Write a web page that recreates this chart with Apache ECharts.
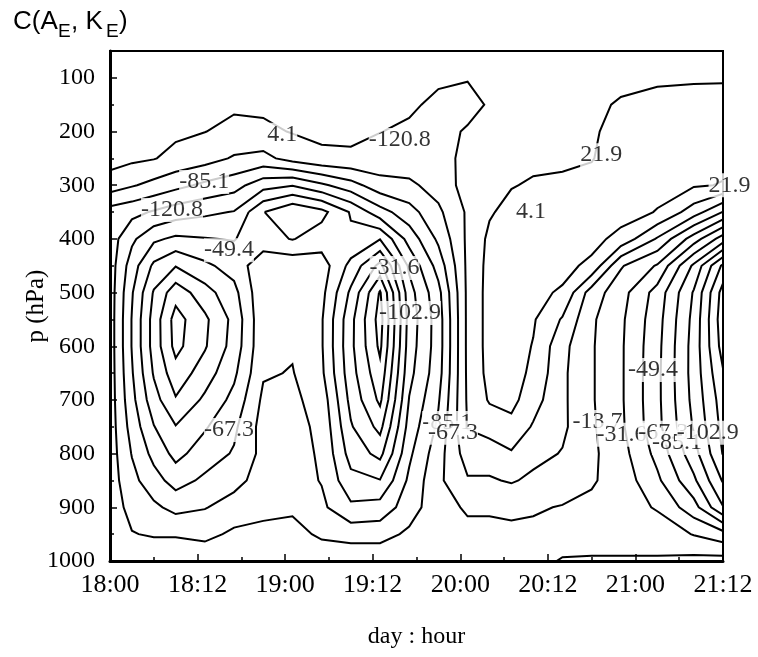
<!DOCTYPE html>
<html><head><meta charset="utf-8">
<script src="https://cdn.jsdelivr.net/npm/echarts@6/dist/echarts.min.js"></script>
<style>html,body{margin:0;padding:0;background:#fff}#c{width:758px;height:657px}</style>
</head><body><div id="c"></div>
<script>
// hours since 18:00 of each data column
const hours = [0, 3, 6, 9, 13, 17, 21, 25, 29, 33, 37, 41, 45, 49, 52, 55, 58, 62, 66, 70, 75, 80, 84];
// pressure levels (hPa) of each data row
const pressures = [50,100,150,200,250,300,350,400,450,500,550,600,650,700,750,800,850,900,950,1000];
// C(AE,KE) values, one row per pressure level (estimated from the figure)
const row50   = [13.0,13.0,13.0,13.0,13.0,13.0,13.0,13.0,13.0,13.0,13.0,12.1,11.2,9.4,11.2,12.1,13.0,13.9,14.8,14.8,14.8,14.8,14.8];
const row100  = [13.0,13.0,13.0,13.0,13.0,12.1,12.1,13.0,13.0,13.0,13.0,9.4,6.7,5.0,6.7,11.2,13.0,14.8,16.5,17.4,19.2,20.1,20.1];
const row150  = [13.0,13.0,13.0,11.2,9.4,6.7,7.6,9.4,11.2,11.2,10.3,6.7,0.5,-1.3,5.8,11.2,13.9,16.5,18.3,23.7,27.3,28.1,29.0];
const row200  = [13.0,12.1,11.2,7.6,4.4,-0.4,0.5,5.0,7.6,7.6,4.4,1.4,-1.3,5.8,7.6,13.0,15.7,17.4,19.2,29.0,30.8,31.7,30.8];
const row250  = [11.2,7.6,5.0,-1.3,-6.6,-15.6,-19.1,-6.6,0.5,1.4,-1.3,-3.1,0.5,6.7,11.2,16.5,18.3,18.3,21.0,30.8,30.8,31.7,26.4];
const row300  = [-4.9,-12.0,-19.1,-26.3,-35.2,-42.3,-60.2,-66.4,-53.0,-38.8,-20.9,-17.3,-6.6,11.2,15.7,21.0,23.7,25.5,27.3,30.8,27.3,23.7,21.0];
const row350  = [-38.8,-44.1,-51.2,-58.4,-63.7,-68.2,-102.1,-119.0,-108.3,-83.4,-56.6,-38.8,-17.3,6.7,20.1,27.3,29.0,29.0,30.8,29.0,21.0,-4.9,-32.5];
const row400  = [-40.5,-63.7,-81.6,-88.7,-86.0,-84.2,-95.8,-103.9,-94.1,-88.7,-102.1,-60.2,-28.1,7.6,25.5,29.0,29.9,29.0,27.3,16.5,-15.6,-58.4,-94.1];
const row450  = [-40.5,-76.2,-106.5,-119.9,-106.5,-95.8,-72.7,-72.7,-76.2,-108.3,-144.0,-81.6,-42.3,8.0,27.3,29.9,28.1,26.4,18.3,-29.8,-51.2,-106.5,-160.1];
const row500  = [-40.5,-83.4,-122.6,-149.4,-128.0,-108.3,-70.9,-70.9,-79.8,-124.4,-176.1,-92.3,-54.8,8.0,28.1,29.9,25.5,20.1,-22.7,-42.3,-74.4,-122.6,-181.5];
const row550  = [-40.5,-86.0,-128.0,-163.6,-142.2,-115.5,-70.9,-69.1,-83.4,-133.3,-181.5,-95.8,-58.4,8.0,28.1,29.9,23.7,2.3,-28.9,-45.9,-78.0,-126.2,-185.0];
const row600  = [-40.5,-86.0,-128.0,-161.9,-140.4,-113.7,-70.9,-69.1,-83.4,-134.2,-177.9,-94.1,-58.4,8.0,28.1,29.9,21.0,-8.4,-29.8,-46.8,-79.8,-128.0,-181.5];
const row650  = [-40.5,-83.4,-122.6,-149.4,-129.7,-106.5,-69.1,-66.4,-81.6,-131.5,-169.0,-90.5,-56.6,7.6,27.3,29.0,18.3,-10.2,-29.8,-46.8,-80.7,-128.0,-172.6];
const row700  = [-40.5,-79.8,-113.7,-136.9,-117.3,-97.6,-63.7,-63.7,-74.4,-126.2,-160.1,-84.2,-51.2,6.7,23.7,27.3,11.2,-10.2,-29.8,-46.8,-80.7,-126.2,-165.4];
const row750  = [-40.5,-74.4,-102.1,-119.9,-104.8,-88.7,-60.2,-62.0,-70.9,-119.0,-144.0,-78.0,-45.9,5.0,11.2,16.5,2.3,-10.2,-28.9,-45.9,-79.8,-122.6,-161.9];
const row800  = [-40.5,-68.2,-90.5,-108.3,-94.1,-83.4,-62.0,-62.0,-69.1,-110.1,-126.2,-70.9,-38.8,-4.9,-4.9,2.3,-8.4,-14.7,-28.1,-42.3,-72.7,-113.7,-157.4];
const row850  = [-40.5,-62.0,-78.0,-92.3,-81.6,-72.7,-60.2,-60.2,-68.2,-97.6,-102.1,-63.7,-35.2,-15.6,-15.6,-12.0,-17.3,-22.7,-29.8,-38.8,-63.7,-99.4,-140.4];
const row900  = [-40.5,-54.8,-63.7,-72.7,-68.2,-60.2,-54.8,-53.0,-63.7,-81.6,-78.0,-58.4,-37.0,-29.8,-29.8,-28.1,-29.8,-32.5,-35.2,-40.5,-51.2,-78.0,-119.9];
const row950  = [-40.5,-48.6,-51.2,-51.2,-54.8,-45.9,-44.1,-42.3,-53.0,-56.6,-56.6,-45.9,-38.8,-35.2,-35.2,-35.2,-35.2,-37.0,-38.8,-38.8,-38.8,-50.4,-60.2];
const row1000 = [-35.2,-35.2,-35.2,-35.2,-35.2,-35.2,-35.2,-35.2,-35.2,-35.2,-35.2,-35.2,-35.2,-35.2,-35.2,-35.2,-35.2,-30.7,-29.8,-29.8,-29.8,-26.3,-24.5];
// contour levels
const levels = [21.9, 4.1, -13.7, -31.6, -49.4, -67.3, -85.1, -102.9, -120.8, -138.6, -156.4, -174.2];
// tick labels
const xTickLabels = ['18:00','18:12','19:00','19:12','20:00','20:12','21:00','21:12'];
const yTickLabels = [100,200,300,400,500,600,700,800,900,1000];
// contour labels (text, hour, pressure)
const labelTexts     = ['4.1','-120.8','21.9','-85.1','-120.8','21.9','4.1','-49.4','-31.6','-102.9','-49.4','-67.3','-85.1','-67.3','-13.7','-31.6','-67.3','-85.1','-102.9'];
const labelHours     = [23.6, 39.7, 67.3, 12.9, 8.5, 84.9, 57.7, 16.3, 39.0, 41.1, 74.4, 16.3, 46.2, 47.0, 66.8, 70.1, 75.8, 77.7, 81.9];
const labelPressures = [206, 216, 244, 294, 346, 300, 350, 421, 454, 538, 644, 756, 743, 761, 741, 765, 761, 780, 761];

const field = [row50,row100,row150,row200,row250,row300,row350,row400,row450,row500,row550,row600,row650,row700,row750,row800,row850,row900,row950,row1000];

// ---- marching squares on the rectilinear grid ----
function edgePoint(i1,j1,i2,j2,L){
  if (j1>j2 || (j1===j2 && i1>i2)) { const ti=i1,tj=j1; i1=i2;j1=j2;i2=ti;j2=tj; }
  const v1=field[j1][i1], v2=field[j2][i2];
  const t=(L-v1)/(v2-v1);
  return [hours[i1]+(hours[i2]-hours[i1])*t, pressures[j1]+(pressures[j2]-pressures[j1])*t];
}
function contour(L){
  const segs=[];
  for(let j=0;j<pressures.length-1;j++){
    for(let i=0;i<hours.length-1;i++){
      const a=field[j][i], b=field[j][i+1], c=field[j+1][i+1], d=field[j+1][i];
      const idx=(a>=L?8:0)|(b>=L?4:0)|(c>=L?2:0)|(d>=L?1:0);
      if(idx===0||idx===15) continue;
      const T=()=>edgePoint(i,j,i+1,j,L), R=()=>edgePoint(i+1,j,i+1,j+1,L),
            B=()=>edgePoint(i,j+1,i+1,j+1,L), Lf=()=>edgePoint(i,j,i,j+1,L);
      const center=(a+b+c+d)/4;
      switch(idx){
        case 1: case 14: segs.push([Lf(),B()]); break;
        case 2: case 13: segs.push([B(),R()]); break;
        case 3: case 12: segs.push([Lf(),R()]); break;
        case 4: case 11: segs.push([T(),R()]); break;
        case 6: case 9: segs.push([T(),B()]); break;
        case 7: case 8: segs.push([Lf(),T()]); break;
        case 5:
          if(center>=L){ segs.push([Lf(),T()]); segs.push([R(),B()]); }
          else { segs.push([T(),R()]); segs.push([Lf(),B()]); }
          break;
        case 10:
          if(center>=L){ segs.push([T(),R()]); segs.push([Lf(),B()]); }
          else { segs.push([Lf(),T()]); segs.push([R(),B()]); }
          break;
      }
    }
  }
  const key=p=>p[0].toFixed(6)+','+p[1].toFixed(6);
  const ends=new Map();
  segs.forEach((s,k)=>{ [0,1].forEach(e=>{ const kk=key(s[e]); if(!ends.has(kk)) ends.set(kk,[]); ends.get(kk).push([k,e]); }); });
  const used=new Array(segs.length).fill(false);
  const lines=[];
  function extend(line, pt){
    let cur=pt;
    while(true){
      const list=ends.get(key(cur))||[];
      let nxt=null;
      for(const [k,e] of list){ if(!used[k]){ nxt=[k,e]; break; } }
      if(!nxt) break;
      used[nxt[0]]=true;
      const other=segs[nxt[0]][1-nxt[1]];
      line.push(other); cur=other;
    }
  }
  segs.forEach((s,k)=>{
    if(used[k]) return;
    used[k]=true;
    const fwd=[s[0],s[1]];
    extend(fwd,s[1]);
    const back=[s[0]];
    extend(back,s[0]);
    lines.push(back.slice(1).reverse().concat(fwd));
  });
  return lines;
}
const polylines=[];
levels.forEach(L=>{ contour(L).forEach(l=>polylines.push(l)); });

const chart=echarts.init(document.getElementById('c'),null,{renderer:'canvas'});
const serif='"Liberation Serif","Times New Roman",serif';
const sans='"Liberation Sans",Arial,sans-serif';
const titleStyle={fontFamily:sans,fontSize:26,fill:'#000'};
const subStyle={fontFamily:sans,fontSize:19,fill:'#000'};
chart.setOption({
  animation:false,
  backgroundColor:'#fff',
  grid:{left:110,right:35,top:51,bottom:96,show:true,borderColor:'#000',borderWidth:2,backgroundColor:'transparent'},
  xAxis:{type:'value',min:0,max:84,interval:12,
    axisLine:{show:true,lineStyle:{color:'#000',width:3}},
    axisTick:{show:true,inside:true,length:7,lineStyle:{color:'#000',width:1.5}},
    minorTick:{show:true,splitNumber:2,length:4,lineStyle:{color:'#000',width:1.5}},
    splitLine:{show:false},
    axisLabel:{formatter:v=>xTickLabels[Math.round(v/12)],fontFamily:serif,fontSize:26,color:'#000',margin:11},
    name:'day : hour',nameLocation:'middle',nameGap:64,nameMoveOverlap:false,nameTextStyle:{fontFamily:serif,fontSize:24,fontWeight:'normal',color:'#000'}},
  yAxis:[{type:'value',inverse:true,min:50,max:1000,
    axisLine:{show:true,lineStyle:{color:'#000',width:3}},
    axisTick:{show:true,inside:true,length:7,customValues:yTickLabels,lineStyle:{color:'#000',width:1.5}},
    splitLine:{show:false},
    axisLabel:{customValues:yTickLabels,formatter:v=>String(v),fontFamily:serif,fontSize:24,color:'#000',margin:15},
    name:'p (hPa)',nameLocation:'middle',nameGap:61,nameMoveOverlap:false,nameTextStyle:{fontFamily:serif,fontSize:25,fontWeight:'normal',color:'#000'}},
   {type:'value',inverse:true,min:50,max:1000,position:'left',
    axisLine:{show:false},axisLabel:{show:false},splitLine:{show:false},
    axisTick:{show:true,inside:true,length:4,customValues:[150,250,350,450,550,650,750,850,950],lineStyle:{color:'#000',width:1.5}}}],
  series:[
    {type:'custom',coordinateSystem:'cartesian2d',silent:true,clip:true,
     data:polylines.map((pl,i)=>[pl[0][0],pl[0][1],i]),
     encode:{x:0,y:1},
     renderItem:(params,api)=>{
       const pl=polylines[params.dataIndex];
       return {type:'polyline',shape:{points:pl.map(p=>api.coord(p))},style:{stroke:'#000',lineWidth:2,fill:'none',lineJoin:'miter'}};
     },z:2},
    {type:'scatter',symbolSize:0,clip:false,silent:true,z:5,
     data:labelTexts.map((t,i)=>[labelHours[i],labelPressures[i],t]),
     label:{show:true,position:'inside',formatter:p=>p.value[2],fontFamily:serif,fontSize:24,color:'#000',backgroundColor:'#fff',padding:[0,0]}}
  ],
  graphic:[
    {type:'text',left:13,top:9,style:Object.assign({text:'C(A'},titleStyle)},
    {type:'text',left:58,top:22,style:Object.assign({text:'E'},subStyle)},
    {type:'text',left:71,top:9,style:Object.assign({text:', K'},titleStyle)},
    {type:'text',left:106,top:22,style:Object.assign({text:'E'},subStyle)},
    {type:'text',left:119,top:9,style:Object.assign({text:')'},titleStyle)}
  ]
});
</script></body></html>
